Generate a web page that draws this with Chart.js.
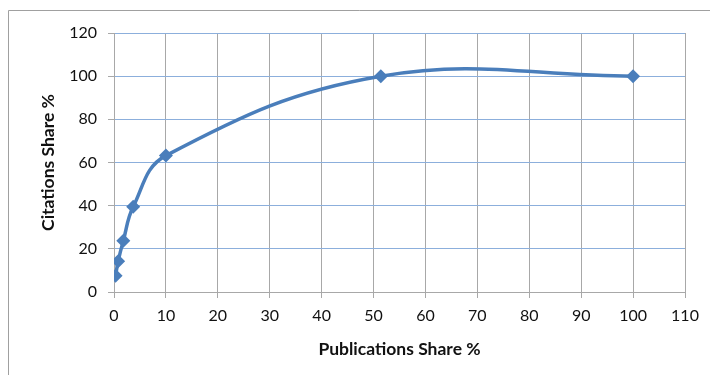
<!DOCTYPE html>
<html>
<head>
<meta charset="utf-8">
<script src="https://cdn.jsdelivr.net/npm/chart.js@4"></script>
<style>
  html, body { margin: 0; padding: 0; background: #fff; }
  #wrap { position: relative; width: 710px; height: 375px; }
</style>
</head>
<body>
<div id="wrap"><canvas id="c" width="710" height="375"></canvas></div>
<script>
// Cumulative share of publications vs. share of citations
const publicationsShare = [0.3, 0.8, 1.8, 3.7, 10, 51.4, 100];
const citationsShare    = [7.5, 14.3, 23.8, 39.5, 63.2, 100, 100];

const xTicks = [0, 10, 20, 30, 40, 50, 60, 70, 80, 90, 100, 110];
const yTicks = [0, 20, 40, 60, 80, 100, 120];

const BLUE = '#4a7ebb';
const GRID_BLUE = '#8cafdc';
const GRID_GRAY = '#a8a8a8';
const FONT = 'Lato, "Open Sans", sans-serif';

const points = publicationsShare.map((x, i) => ({ x, y: citationsShare[i] }));

// Light frame around the whole chart
const framePlugin = {
  id: 'frame',
  beforeDraw(chart) {
    const ctx = chart.ctx;
    ctx.save();
    ctx.fillStyle = '#ffffff';
    ctx.fillRect(0, 0, chart.width, chart.height);
    ctx.strokeStyle = '#a0a0a0';
    ctx.lineWidth = 1;
    ctx.beginPath();
    ctx.moveTo(8.5, chart.height + 5);
    ctx.lineTo(8.5, 10.5);
    ctx.lineTo(chart.width + 5, 10.5);
    ctx.stroke();
    ctx.restore();
  }
};

new Chart(document.getElementById('c'), {
  type: 'scatter',
  data: {
    datasets: [{
      data: points,
      showLine: true,
      borderColor: BLUE,
      backgroundColor: BLUE,
      borderWidth: 3.5,
      tension: 0.4,
      pointStyle: 'rectRot',
      pointRadius: 7,
      pointHoverRadius: 7,
      pointBorderWidth: 0
    }]
  },
  options: {
    responsive: false,
    animation: false,
    events: [],
    layout: { padding: { top: 33, right: 25, bottom: 0, left: 0 } },
    plugins: { legend: { display: false }, tooltip: { enabled: false } },
    scales: {
      x: {
        type: 'linear',
        min: 0, max: 110,
        afterFit: s => { s.height = 83; },
        afterBuildTicks: s => { s.ticks = xTicks.map(v => ({ value: v })); },
        border: { color: GRID_GRAY, width: 1 },
        grid: { color: GRID_GRAY, tickColor: GRID_GRAY, tickLength: 6, lineWidth: 1 },
        ticks: { color: '#111', font: { family: FONT, size: 16 }, padding: 8, maxRotation: 0 },
        title: {
          display: true, text: 'Publications Share %', color: '#111',
          font: { family: FONT, size: 17.5, weight: 'bold' },
          padding: { top: 0, bottom: 15 }
        }
      },
      y: {
        type: 'linear',
        min: 0, max: 120,
        afterFit: s => { s.width = 114; },
        afterBuildTicks: s => { s.ticks = yTicks.map(v => ({ value: v })); },
        border: { color: GRID_GRAY, width: 1 },
        grid: {
          color: c => (c.tick && c.tick.value === 0 ? GRID_GRAY : GRID_BLUE),
          tickColor: GRID_GRAY, tickLength: 6, lineWidth: 1
        },
        ticks: { color: '#111', font: { family: FONT, size: 16 }, padding: 11 },
        title: {
          display: true, text: 'Citations Share %', color: '#111',
          font: { family: FONT, size: 17.5, weight: 'bold' },
          padding: { top: 38, bottom: 0 }
        }
      }
    }
  },
  plugins: [framePlugin]
});
</script>
</body>
</html>
